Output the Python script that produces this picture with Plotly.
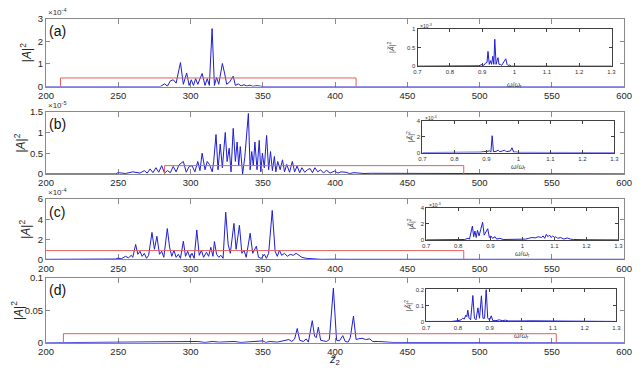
import plotly.graph_objects as go

# ---- data (main panels: z~2 vs |A|^2) ----
ticks_z = [200, 250, 300, 350, 400, 450, 500, 550, 600]
ticks_w = [0.7, 0.8, 0.9, 1.0, 1.1, 1.2, 1.3]
tick_w_text = ['0.7', '0.8', '0.9', '1', '1.1', '1.2', '1.3']

# (a) values in units of 1e-4
z_a = [200, 260, 268, 272, 276, 279, 282, 284, 286, 288, 290, 293, 295, 297.3, 299, 300.5, 302,
       303.5, 305, 308, 310, 311.5, 313, 314.9, 316.5, 318, 319.5, 322, 323.5, 325, 327, 329.5,
       331, 333, 335, 337, 339, 341, 343, 346, 350, 600]
A_a = [0, 0, 0.01, 0, 0.03, 0, 0.12, 0.02, 0.25, 0.3, 0.15, 1.06, 0.1, 0.6, 0.05, 0.3, 0.05,
       0.35, 0.1, 0.58, 0.05, 0.35, 0.05, 2.56, 0.05, 0.4, 0.1, 1.02, 0.6, 0.1, 0.2, 0.46,
       0.05, 0.12, 0.03, 0.08, 0.02, 0.06, 0.01, 0.04, 0, 0]

# (b) values in units of 1e-5
z_b = [200, 248, 250, 255, 260, 265, 268, 270, 272, 274, 276, 278, 280, 282, 284, 286, 288,
       290, 292, 295, 297, 299, 301, 303, 305, 306.5, 308, 310, 311.5, 313, 315, 316, 317.6,
       319, 320.5, 322, 324, 325.3, 326.7, 328, 329.5, 331, 332.2, 333.3, 334.4, 336, 337.5,
       340, 341.2, 342.3, 343.4, 344.5, 346, 347.5, 348.6, 349.7, 351, 352.6, 354, 355.3, 356.6,
       358, 359, 360.3, 362, 363.6, 365, 366.5, 368.5, 370.4, 372, 373.7, 375.5, 377, 379,
       380.8, 382.7, 384.3, 386, 388, 390, 392, 394, 396.5, 399.6, 402, 404, 407.5, 410,
       413, 416.5, 420, 425, 432, 440, 450, 460, 600]
A_b = [0, 0, 0.03, 0.01, 0.05, 0.02, 0.08, 0.02, 0.12, 0.03, 0.15, 0.04, 0.2, 0.02, 0.08, 0.03, 0.18,
       0.05, 0.22, 0.3, 0.04, 0.18, 0.2, 0.05, 0.3, 0.08, 0.5, 0.1, 0.3, 0.23, 0.05, 0.3, 0.95,
       0.1, 0.72, 0.15, 1.0, 0.3, 0.62, 0.05, 1.1, 0.3, 0.77, 0.2, 0.66, 0.0, 0.4,
       1.46, 0.1, 0.54, 0.2, 0.77, 0.1, 0.81, 0.05, 0.5, 0.15, 0.93, 0.1, 0.54, 0.08,
       0.42, 0.05, 0.3, 0.1, 0.34, 0.05, 0.23, 0.04, 0.3, 0.05, 0.19, 0.03, 0.15, 0.04,
       0.1, 0.13, 0.03, 0.15, 0.05, 0.1, 0.02, 0.09, 0.02, 0.07, 0.02, 0.05, 0.04, 0.01,
       0.03, 0.02, 0.01, 0.015, 0.015, 0.01, 0.01, 0.005, 0]

# (c) values in units of 1e-4
z_c = [200, 235, 240, 245, 248, 250, 252, 255, 257, 259, 260, 262, 263.5, 265, 266.5, 268, 269.5,
       271, 273.3, 275, 276.7, 278.5, 280, 281.5, 283.9, 285.5, 287, 288.5, 290, 291.5, 293,
       295, 296.5, 298, 299.5, 301, 302.5, 304.3, 306, 307.5, 309, 311, 312.5, 314, 315.5,
       316.5, 318, 319.5, 321, 322.5, 324.3, 326, 327.5, 330, 331.5, 333.8, 335.5, 337, 338.5,
       341.2, 343, 345.5, 347, 349, 351, 352.5, 354, 356.5, 358.5, 360, 361.5, 363, 365, 367,
       369, 371, 373, 375, 377, 380, 385, 390, 400, 410, 600]
A_c = [0, 0.02, 0.05, 0.08, 0.03, 0.12, 0.05, 0.3, 0.15, 0.4, 0.2, 1.48, 0.5, 0.8, 0.3, 0.6, 0.1,
       0.4, 2.68, 1.0, 2.3, 0.5, 0.8, 0.2, 3.07, 1.2, 0.3, 0.9, 0.2, 0.5, 0.1,
       1.8, 0.3, 0.8, 0.2, 0.6, 0.1, 2.93, 0.4, 0.9, 0.2, 0.7, 0.3, 1.2, 0.3,
       1.77, 0.5, 0.2, 0.4, 0.1, 4.7, 1.5, 0.6, 3.58, 1.0, 3.39, 0.6, 0.9, 0.2,
       2.6, 0.6, 1.3, 0.2, 0.1, 0.5, 0.1, 0.6, 4.87, 0.8, 0.3, 0.9, 0.4, 0.6, 0.3,
       0.5, 0.4, 0.6, 0.4, 0.2, 0.1, 0.05, 0, 0.01, 0, 0]

# (d) absolute values
z_d = [200, 300, 305, 310, 315, 320, 330, 335, 340, 350, 352, 355, 360, 365, 368, 370, 372,
       373.8, 375.5, 378, 380, 381.5, 383, 384.2, 385.8, 387, 388.4, 390, 392, 394, 396,
       398.8, 401, 403, 405.3, 407, 409, 410.5, 412.7, 414.5, 416, 418.6, 421, 424, 426,
       430, 440, 600]
A_d = [0, 0.001, 0.002, 0.0005, 0.002, 0.001, 0.002, 0.0005, 0.0015, 0.003, 0.0005, 0.002, 0.001,
       0.003, 0.005, 0.002, 0.006, 0.022, 0.004, 0.002, 0.006, 0.001, 0.02, 0.034, 0.01, 0.008,
       0.024, 0.004, 0.003, 0.002, 0.005, 0.084, 0.004, 0.003, 0.011, 0.002, 0.001, 0.008,
       0.041, 0.005, 0.006, 0.007, 0.005, 0.006, 0.002, 0.002, 0.0005, 0]

# red windows: start, end, height (same units as the panel)
win_a = [210, 414.5, 0.38]
win_b = [282, 489, 0.2]
win_c = [150, 489, 0.87]
win_d = [212, 553, 0.014]

# ---- insets: omega/omega_r vs |A~|^2 ----
w_a = [0.7, 0.87, 0.88, 0.89, 0.9, 0.905, 0.91, 0.915, 0.918, 0.922, 0.926, 0.929, 0.933, 0.936,
       0.939, 0.943, 0.946, 0.949, 0.952, 0.956, 0.96, 0.965, 0.97, 0.973, 0.977, 0.98, 0.985,
       0.99, 1.3]
S_a = [0, 0, 0.02, 0.01, 0.05, 0.02, 0.08, 0.1, 0.4, 0.05, 0.15, 0.05, 0.27, 0.05,
       0.73, 0.05, 0.15, 0.23, 0.05, 0.05, 0.02, 0.08, 0.15, 0.2, 0.05, 0.02, 0.03, 0, 0]

w_b = [0.7, 0.86, 0.88, 0.89, 0.9, 0.905, 0.91, 0.914, 0.918, 0.922, 0.93, 0.937, 0.942, 0.95,
       0.957, 0.962, 0.97, 0.975, 0.98, 0.985, 0.99, 1.0, 1.3]
S_b = [0, 0, 0.05, 0.1, 0.15, 0.1, 0.2, 0.05, 2.1, 0.1, 0.15, 0.3, 0.1, 0.2,
       0.3, 0.1, 0.15, 0.2, 0.6, 0.05, 0.08, 0.02, 0]

w_c = [0.7, 0.8, 0.82, 0.83, 0.835, 0.844, 0.848, 0.852, 0.856, 0.86, 0.865, 0.87, 0.876, 0.881,
       0.886, 0.892, 0.897, 0.902, 0.907, 0.915, 0.92, 0.93, 0.94, 0.96, 0.98, 1.0, 1.01, 1.02,
       1.03, 1.04, 1.05, 1.06, 1.065, 1.07, 1.075, 1.08, 1.085, 1.09, 1.095, 1.1, 1.105, 1.11,
       1.12, 1.13, 1.14, 1.15, 1.16, 1.2, 1.3]
S_c = [0, 0, 0.05, 0.2, 0.1, 1.73, 0.4, 1.1, 0.3, 1.2, 0.5, 1.3, 2.2, 0.6,
       1.0, 1.4, 0.3, 0.5, 0.2, 0.4, 0.1, 0.2, 0.05, 0.05, 0.02, 0.02, 0.1, 0.2,
       0.3, 0.25, 0.4, 0.3, 0.5, 0.2, 0.7, 0.4, 0.6, 0.3, 0.5, 0.3, 0.4, 0.2,
       0.3, 0.1, 0.25, 0.1, 0.05, 0.02, 0]

w_d = [0.7, 0.78, 0.8, 0.81, 0.815, 0.82, 0.825, 0.828, 0.831, 0.835, 0.84, 0.847, 0.852, 0.857,
       0.863, 0.868, 0.874, 0.879, 0.884, 0.889, 0.894, 0.9, 0.905, 0.91, 0.92, 0.93, 0.94,
       0.95, 0.96, 0.98, 1.0, 1.03, 1.06, 1.09, 1.1, 1.15, 1.3]
S_d = [0, 0, 0.005, 0.01, 0.02, 0.015, 0.04, 0.03, 0.07, 0.02, 0.01, 0.162, 0.02, 0.01,
       0.085, 0.02, 0.16, 0.02, 0.02, 0.2, 0.02, 0.01, 0.035, 0.005, 0.005, 0.01, 0.005,
       0.008, 0.003, 0.005, 0.003, 0.004, 0.003, 0.005, 0.003, 0.002, 0]

W, H = 640, 374
BLUE = 'rgb(30,30,210)'
RED = 'rgb(225,95,95)'
FONT = 'Liberation Sans'

def px(x):
    return x / W

def py(y):
    return 1 - y / H

panels = [
    dict(lab='(a)', z=z_a, A=A_a, win=win_a, ymax=3, yt=[0, 1, 2, 3], ytt=['0', '1', '2', '3'],
         exp='\u00d710<sup>-4</sup>', box=(13, 83), ylab_x=18,
         w=w_a, S=S_a, iymax=1, iyt=[0, 0.5, 1], iytt=['0', '0.5', '1'], iexp='\u00d710<sup>-3</sup>',
         ibox=(420, 619, 24, 62), iylab_x=394, wlab_y=81),
    dict(lab='(b)', z=z_b, A=A_b, win=win_b, ymax=1.5, yt=[0, 0.5, 1, 1.5], ytt=['0', '0.5', '1', '1.5'],
         exp='\u00d710<sup>-5</sup>', box=(109, 173), ylab_x=12,
         w=w_b, S=S_b, iymax=4, iyt=[0, 2, 4], iytt=['0', '2', '4'], iexp='\u00d710<sup>-4</sup>',
         ibox=(425, 622, 118, 151), iylab_x=413, wlab_y=166),
    dict(lab='(c)', z=z_c, A=A_c, win=win_c, ymax=6, yt=[0, 2, 4, 6], ytt=['0', '2', '4', '6'],
         exp='\u00d710<sup>-4</sup>', box=(199, 261), ylab_x=18,
         w=w_c, S=S_c, iymax=4, iyt=[0, 2, 4], iytt=['0', '2', '4'], iexp='\u00d710<sup>-3</sup>',
         ibox=(429, 626, 208, 241), iylab_x=414, wlab_y=256),
    dict(lab='(d)', z=z_d, A=A_d, win=win_d, ymax=0.1, yt=[0, 0.05, 0.1], ytt=['0', '0.05', '0.1'],
         exp=None, box=(280, 347), ylab_x=10,
         w=w_d, S=S_d, iymax=0.2, iyt=[0, 0.1, 0.2], iytt=['0', '0.1', '0.2'], iexp=None,
         ibox=(429, 624, 292, 325), iylab_x=411, wlab_y=340),
]

fig = go.Figure()
layout = {}
annotations = []

for i, p in enumerate(panels):
    k = i + 1
    xs = '' if k == 1 else str(k)
    ki = k + 4
    # main signal + red window
    fig.add_trace(go.Scatter(x=p['z'], y=p['A'], mode='lines', line=dict(color=BLUE, width=1),
                             xaxis='x' + xs, yaxis='y' + xs, showlegend=False, hoverinfo='skip'))
    z0, z1, h = p['win']
    fig.add_trace(go.Scatter(x=[z0, z0, z1, z1], y=[0, h, h, 0], mode='lines',
                             line=dict(color=RED, width=1), xaxis='x' + xs, yaxis='y' + xs,
                             showlegend=False, hoverinfo='skip'))
    # inset spectrum
    fig.add_trace(go.Scatter(x=p['w'], y=p['S'], mode='lines', line=dict(color=BLUE, width=1),
                             xaxis='x%d' % ki, yaxis='y%d' % ki, showlegend=False, hoverinfo='skip'))

    b0, b1 = p['box']
    common = dict(showgrid=False, zeroline=False, showline=True, mirror='ticks', ticks='inside',
                  linecolor='#8a8a8a', linewidth=1, tickcolor='#8a8a8a', layer='below traces',
                  tickfont=dict(family=FONT, size=9.5, color='#262626'))
    layout['xaxis' + xs] = dict(common, domain=[px(39), px(632)], range=[200, 600],
                                tickvals=ticks_z, ticklen=5, anchor='y' + xs)
    layout['yaxis' + xs] = dict(common, domain=[py(b1), py(b0)], range=[0, p['ymax']],
                                tickvals=p['yt'], ticktext=p['ytt'], ticklen=4, anchor='x' + xs)

    ix0, ix1, iy0, iy1 = p['ibox']
    icommon = dict(showgrid=False, zeroline=False, showline=True, mirror='ticks', ticks='inside',
                   linecolor='#404040', linewidth=1, tickcolor='#404040', ticklen=3,
                   tickfont=dict(family=FONT, size=6, color='#333333'))
    layout['xaxis%d' % ki] = dict(icommon, domain=[px(ix0), px(ix1)], range=[0.7, 1.3],
                                  tickvals=ticks_w, ticktext=tick_w_text, anchor='y%d' % ki)
    layout['yaxis%d' % ki] = dict(icommon, domain=[py(iy1), py(iy0)], range=[0, p['iymax']],
                                  tickvals=p['iyt'], ticktext=p['iytt'], anchor='x%d' % ki)

    # texts
    annotations.append(dict(text=p['lab'], x=px(40), y=py(b0 + 13), xref='paper', yref='paper',
                            xanchor='left', yanchor='middle', showarrow=False,
                            font=dict(family=FONT, size=14, color='#111111')))
    annotations.append(dict(text='|<i>A</i>|<sup>2</sup>', x=px(p['ylab_x']), y=py((b0 + b1) / 2),
                            xref='paper', yref='paper', textangle=-90, showarrow=False,
                            xanchor='center', yanchor='middle',
                            font=dict(family=FONT, size=12, color='#262626')))
    if p['exp']:
        annotations.append(dict(text=p['exp'], x=px(39), y=py(b0 - 7), xref='paper', yref='paper',
                                xanchor='left', yanchor='middle', showarrow=False,
                                font=dict(family=FONT, size=8, color='#333333')))
    if p['iexp']:
        annotations.append(dict(text=p['iexp'], x=px(ix0 + 1), y=py(iy0 - 3), xref='paper',
                                yref='paper', xanchor='left', yanchor='middle', showarrow=False,
                                font=dict(family=FONT, size=5, color='#333333')))
    annotations.append(dict(text='|<i>\u00c3</i>|<sup>2</sup>', x=px(p['iylab_x']),
                            y=py((iy0 + iy1) / 2), xref='paper', yref='paper', textangle=-90,
                            showarrow=False, xanchor='center', yanchor='middle',
                            font=dict(family=FONT, size=7, color='#444444')))
    annotations.append(dict(text='<i>\u03c9</i>/<i>\u03c9</i><sub>r</sub>', x=px((ix0 + ix1) / 2),
                            y=py(p['wlab_y']), xref='paper', yref='paper', showarrow=False,
                            xanchor='center', yanchor='middle',
                            font=dict(family=FONT, size=7, color='#444444')))

annotations.append(dict(text='<i>z\u0303</i><sub>2</sub>', x=px(335), y=py(374), xref='paper',
                        yref='paper', showarrow=False, xanchor='center', yanchor='bottom',
                        font=dict(family=FONT, size=11, color='#262626')))

fig.update_layout(
    width=W, height=H,
    margin=dict(l=0, r=0, t=0, b=0),
    paper_bgcolor='white', plot_bgcolor='white',
    annotations=annotations,
    **layout
)

# remove the page's default body margin so the figure sits at the window origin
fig.write_html("out.html", config={'displayModeBar': False},
               post_script="document.body.style.margin='0';")
